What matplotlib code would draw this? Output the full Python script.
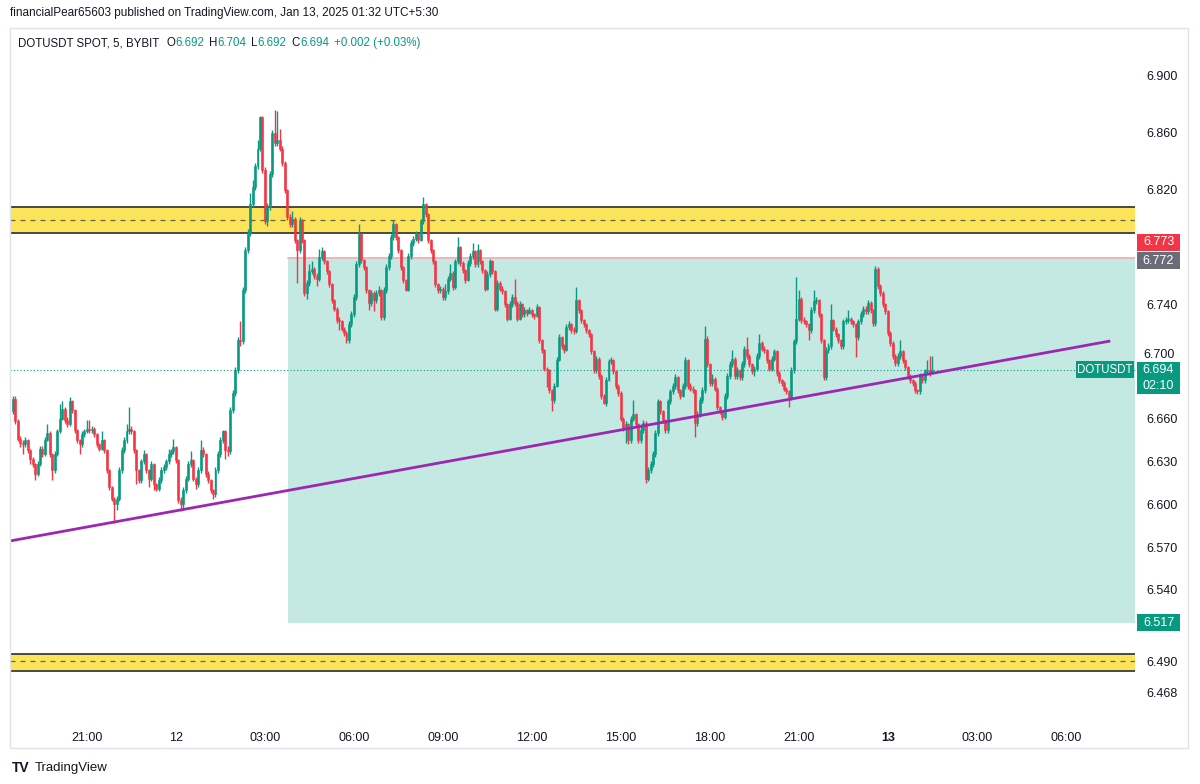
import numpy as np
import pandas as pd
import matplotlib
matplotlib.use('Agg')
import matplotlib.pyplot as plt
import matplotlib.dates as mdates
from matplotlib.patches import Rectangle
from matplotlib.transforms import blended_transform_factory, offset_copy

################################################################################
## DOTUSDT 5 min candles, 2025-01-11 18:30 -> 2025-01-13 01:30
first_open = 6.665
close = [
    6.674, 6.658, 6.646, 6.643, 6.642, 6.645, 6.638, 6.632, 6.628, 6.621,
    6.628, 6.639, 6.635, 6.645, 6.650, 6.635, 6.624, 6.635, 6.651, 6.660,
    6.667, 6.659, 6.656, 6.672, 6.666, 6.652, 6.645, 6.642, 6.649, 6.651,
    6.653, 6.652, 6.653, 6.649, 6.642, 6.639, 6.645, 6.638, 6.624, 6.612,
    6.604, 6.600, 6.604, 6.624, 6.638, 6.645, 6.651, 6.653, 6.651, 6.638,
    6.624, 6.617, 6.630, 6.635, 6.624, 6.618, 6.628, 6.614, 6.611, 6.617,
    6.624, 6.626, 6.630, 6.635, 6.637, 6.640, 6.631, 6.603, 6.600, 6.610,
    6.618, 6.628, 6.631, 6.618, 6.614, 6.624, 6.638, 6.635, 6.621, 6.617,
    6.610, 6.607, 6.624, 6.635, 6.645, 6.651, 6.638, 6.637, 6.666, 6.678,
    6.694, 6.715, 6.714, 6.750, 6.778, 6.790, 6.810, 6.822, 6.837, 6.849,
    6.871, 6.834, 6.798, 6.808, 6.831, 6.860, 6.853, 6.855, 6.849, 6.839,
    6.820, 6.801, 6.796, 6.800, 6.785, 6.778, 6.799, 6.785, 6.748, 6.755,
    6.763, 6.765, 6.760, 6.758, 6.773, 6.777, 6.770, 6.763, 6.754, 6.743,
    6.737, 6.729, 6.728, 6.723, 6.720, 6.715, 6.726, 6.733, 6.745, 6.768,
    6.789, 6.771, 6.766, 6.750, 6.741, 6.748, 6.743, 6.748, 6.750, 6.731,
    6.750, 6.766, 6.774, 6.787, 6.796, 6.787, 6.778, 6.766, 6.757, 6.750,
    6.774, 6.783, 6.786, 6.789, 6.785, 6.798, 6.810, 6.803, 6.785, 6.778,
    6.770, 6.754, 6.750, 6.751, 6.745, 6.749, 6.758, 6.762, 6.752, 6.770,
    6.780, 6.769, 6.764, 6.757, 6.769, 6.774, 6.777, 6.768, 6.778, 6.770,
    6.764, 6.751, 6.761, 6.770, 6.763, 6.737, 6.755, 6.751, 6.749, 6.740,
    6.730, 6.740, 6.745, 6.741, 6.730, 6.740, 6.733, 6.736, 6.734, 6.736,
    6.733, 6.732, 6.738, 6.715, 6.708, 6.695, 6.694, 6.680, 6.673, 6.683,
    6.701, 6.717, 6.711, 6.708, 6.724, 6.726, 6.722, 6.721, 6.743, 6.736,
    6.729, 6.726, 6.722, 6.719, 6.707, 6.694, 6.702, 6.690, 6.676, 6.671,
    6.687, 6.700, 6.701, 6.693, 6.683, 6.678, 6.660, 6.653, 6.656, 6.645,
    6.660, 6.663, 6.656, 6.645, 6.652, 6.657, 6.618, 6.624, 6.628, 6.635,
    6.650, 6.672, 6.665, 6.659, 6.652, 6.672, 6.679, 6.683, 6.689, 6.680,
    6.676, 6.683, 6.701, 6.683, 6.681, 6.680, 6.657, 6.663, 6.673, 6.680,
    6.716, 6.698, 6.685, 6.688, 6.681, 6.668, 6.665, 6.661, 6.676, 6.690,
    6.698, 6.702, 6.690, 6.694, 6.689, 6.698, 6.709, 6.704, 6.698, 6.693,
    6.695, 6.704, 6.713, 6.709, 6.708, 6.701, 6.695, 6.702, 6.707, 6.692,
    6.687, 6.685, 6.681, 6.679, 6.675, 6.694, 6.714, 6.730, 6.744, 6.729,
    6.728, 6.726, 6.722, 6.736, 6.742, 6.743, 6.733, 6.715, 6.689, 6.708,
    6.711, 6.729, 6.723, 6.719, 6.715, 6.711, 6.728, 6.729, 6.730, 6.728,
    6.726, 6.717, 6.728, 6.733, 6.737, 6.735, 6.741, 6.736, 6.727, 6.765,
    6.753, 6.748, 6.740, 6.735, 6.720, 6.713, 6.704, 6.699, 6.704, 6.707,
    6.701, 6.696, 6.690, 6.687, 6.685, 6.680, 6.679, 6.690, 6.687, 6.693,
    6.694, 6.692, 6.694]
high = [
    6.676, 6.676, 6.660, 6.648, 6.645, 6.647, 6.646, 6.639, 6.633, 6.629,
    6.630, 6.641, 6.641, 6.647, 6.656, 6.651, 6.636, 6.637, 6.653, 6.670,
    6.672, 6.668, 6.661, 6.675, 6.673, 6.667, 6.653, 6.646, 6.651, 6.653,
    6.659, 6.659, 6.655, 6.654, 6.650, 6.643, 6.651, 6.646, 6.639, 6.625,
    6.613, 6.605, 6.606, 6.626, 6.640, 6.647, 6.656, 6.668, 6.655, 6.652,
    6.639, 6.625, 6.632, 6.638, 6.636, 6.625, 6.630, 6.629, 6.615, 6.619,
    6.626, 6.628, 6.632, 6.639, 6.639, 6.646, 6.641, 6.632, 6.605, 6.612,
    6.620, 6.630, 6.637, 6.632, 6.619, 6.626, 6.645, 6.640, 6.636, 6.623,
    6.618, 6.611, 6.626, 6.637, 6.647, 6.652, 6.652, 6.641, 6.668, 6.680,
    6.696, 6.717, 6.728, 6.752, 6.780, 6.793, 6.818, 6.827, 6.839, 6.855,
    6.872, 6.872, 6.836, 6.811, 6.833, 6.862, 6.876, 6.875, 6.863, 6.851,
    6.840, 6.821, 6.803, 6.805, 6.801, 6.786, 6.801, 6.800, 6.786, 6.757,
    6.768, 6.770, 6.766, 6.762, 6.779, 6.780, 6.778, 6.771, 6.764, 6.755,
    6.744, 6.738, 6.731, 6.729, 6.724, 6.721, 6.728, 6.735, 6.747, 6.770,
    6.796, 6.790, 6.772, 6.767, 6.751, 6.750, 6.749, 6.750, 6.753, 6.751,
    6.752, 6.768, 6.776, 6.789, 6.799, 6.797, 6.788, 6.779, 6.767, 6.758,
    6.776, 6.785, 6.788, 6.791, 6.790, 6.800, 6.815, 6.811, 6.804, 6.786,
    6.779, 6.771, 6.755, 6.753, 6.752, 6.754, 6.760, 6.768, 6.763, 6.772,
    6.787, 6.781, 6.770, 6.765, 6.771, 6.776, 6.783, 6.778, 6.782, 6.779,
    6.771, 6.765, 6.763, 6.772, 6.771, 6.764, 6.757, 6.756, 6.753, 6.750,
    6.741, 6.742, 6.747, 6.758, 6.742, 6.742, 6.741, 6.738, 6.737, 6.738,
    6.737, 6.734, 6.740, 6.739, 6.716, 6.709, 6.696, 6.695, 6.681, 6.685,
    6.703, 6.719, 6.718, 6.712, 6.726, 6.728, 6.727, 6.724, 6.752, 6.744,
    6.737, 6.730, 6.727, 6.723, 6.720, 6.708, 6.704, 6.703, 6.691, 6.677,
    6.689, 6.702, 6.703, 6.702, 6.694, 6.684, 6.679, 6.661, 6.658, 6.657,
    6.662, 6.673, 6.664, 6.657, 6.656, 6.659, 6.658, 6.626, 6.630, 6.637,
    6.652, 6.674, 6.673, 6.666, 6.660, 6.674, 6.681, 6.685, 6.691, 6.690,
    6.681, 6.685, 6.703, 6.702, 6.685, 6.683, 6.681, 6.665, 6.675, 6.682,
    6.725, 6.718, 6.699, 6.691, 6.689, 6.682, 6.669, 6.666, 6.678, 6.692,
    6.700, 6.708, 6.703, 6.696, 6.695, 6.700, 6.711, 6.717, 6.705, 6.699,
    6.697, 6.706, 6.719, 6.714, 6.711, 6.709, 6.702, 6.704, 6.709, 6.708,
    6.693, 6.688, 6.686, 6.682, 6.680, 6.696, 6.716, 6.759, 6.750, 6.745,
    6.731, 6.729, 6.727, 6.738, 6.750, 6.745, 6.744, 6.734, 6.716, 6.710,
    6.713, 6.740, 6.730, 6.724, 6.720, 6.716, 6.730, 6.731, 6.736, 6.731,
    6.729, 6.727, 6.730, 6.735, 6.739, 6.739, 6.743, 6.742, 6.737, 6.767,
    6.766, 6.754, 6.749, 6.741, 6.736, 6.721, 6.714, 6.705, 6.706, 6.715,
    6.708, 6.702, 6.697, 6.691, 6.688, 6.686, 6.681, 6.692, 6.691, 6.695,
    6.701, 6.704, 6.704]
low = [
    6.663, 6.656, 6.644, 6.640, 6.635, 6.640, 6.636, 6.628, 6.626, 6.617,
    6.620, 6.627, 6.633, 6.634, 6.644, 6.633, 6.617, 6.622, 6.634, 6.650,
    6.659, 6.657, 6.654, 6.655, 6.664, 6.650, 6.643, 6.635, 6.640, 6.647,
    6.650, 6.650, 6.650, 6.647, 6.640, 6.637, 6.638, 6.636, 6.622, 6.610,
    6.602, 6.587, 6.596, 6.602, 6.622, 6.636, 6.643, 6.649, 6.649, 6.636,
    6.614, 6.615, 6.615, 6.628, 6.622, 6.612, 6.616, 6.610, 6.609, 6.609,
    6.615, 6.622, 6.624, 6.628, 6.633, 6.635, 6.629, 6.601, 6.595, 6.596,
    6.608, 6.616, 6.626, 6.616, 6.611, 6.612, 6.622, 6.633, 6.619, 6.615,
    6.608, 6.604, 6.605, 6.622, 6.633, 6.643, 6.632, 6.634, 6.635, 6.664,
    6.676, 6.692, 6.711, 6.712, 6.748, 6.776, 6.788, 6.808, 6.820, 6.835,
    6.847, 6.832, 6.796, 6.795, 6.806, 6.829, 6.851, 6.851, 6.847, 6.837,
    6.818, 6.799, 6.794, 6.794, 6.783, 6.755, 6.776, 6.783, 6.746, 6.744,
    6.753, 6.761, 6.758, 6.753, 6.756, 6.771, 6.768, 6.761, 6.752, 6.741,
    6.735, 6.727, 6.722, 6.721, 6.718, 6.713, 6.713, 6.724, 6.731, 6.743,
    6.766, 6.769, 6.764, 6.748, 6.736, 6.739, 6.735, 6.741, 6.746, 6.729,
    6.729, 6.748, 6.764, 6.772, 6.785, 6.785, 6.776, 6.764, 6.755, 6.749,
    6.749, 6.772, 6.781, 6.784, 6.783, 6.784, 6.796, 6.801, 6.783, 6.776,
    6.768, 6.752, 6.748, 6.748, 6.743, 6.743, 6.747, 6.756, 6.750, 6.751,
    6.768, 6.767, 6.762, 6.755, 6.756, 6.767, 6.772, 6.766, 6.766, 6.768,
    6.762, 6.749, 6.750, 6.759, 6.761, 6.735, 6.735, 6.749, 6.747, 6.738,
    6.728, 6.729, 6.738, 6.739, 6.728, 6.729, 6.731, 6.731, 6.732, 6.733,
    6.731, 6.730, 6.731, 6.713, 6.706, 6.693, 6.682, 6.678, 6.665, 6.671,
    6.682, 6.700, 6.709, 6.706, 6.707, 6.722, 6.720, 6.719, 6.720, 6.734,
    6.727, 6.724, 6.720, 6.717, 6.705, 6.692, 6.692, 6.688, 6.674, 6.670,
    6.669, 6.686, 6.698, 6.691, 6.681, 6.676, 6.658, 6.651, 6.643, 6.642,
    6.643, 6.658, 6.654, 6.643, 6.643, 6.650, 6.615, 6.616, 6.622, 6.626,
    6.633, 6.648, 6.663, 6.657, 6.650, 6.650, 6.670, 6.677, 6.681, 6.678,
    6.674, 6.675, 6.681, 6.681, 6.679, 6.678, 6.647, 6.655, 6.661, 6.671,
    6.678, 6.696, 6.683, 6.683, 6.679, 6.666, 6.663, 6.659, 6.660, 6.674,
    6.688, 6.696, 6.688, 6.688, 6.687, 6.687, 6.696, 6.702, 6.696, 6.691,
    6.690, 6.693, 6.702, 6.707, 6.706, 6.699, 6.693, 6.693, 6.700, 6.690,
    6.685, 6.683, 6.679, 6.677, 6.668, 6.673, 6.692, 6.712, 6.728, 6.727,
    6.726, 6.724, 6.715, 6.720, 6.734, 6.740, 6.731, 6.713, 6.687, 6.687,
    6.706, 6.709, 6.721, 6.717, 6.713, 6.709, 6.709, 6.726, 6.727, 6.726,
    6.724, 6.703, 6.715, 6.726, 6.731, 6.733, 6.733, 6.734, 6.725, 6.725,
    6.751, 6.746, 6.738, 6.733, 6.718, 6.711, 6.702, 6.697, 6.697, 6.702,
    6.699, 6.694, 6.688, 6.685, 6.683, 6.678, 6.677, 6.677, 6.685, 6.685,
    6.691, 6.690, 6.692]

## drawings on the chart
zone_top = [6.808, 6.799, 6.790]       # upper yellow zone: top, dashed mid, bottom
zone_bot = [6.495, 6.490, 6.483]       # lower yellow zone
trend_t = ['2025-01-11 18:24', '2025-01-13 07:30']
trend_p = [6.5743, 6.7143]
pos_start = '2025-01-12 03:46'
pos_entry, pos_stop, pos_target = 6.772, 6.773, 6.517
last_price = 6.694

price_ticks = [6.468, 6.490, 6.540, 6.570, 6.600, 6.630, 6.660, 6.740, 6.820, 6.860, 6.900]
half_hidden_tick = 6.700     # label partly under the last-price tag
time_ticks = ['2025-01-11 21:00', '2025-01-12 00:00', '2025-01-12 03:00', '2025-01-12 06:00',
              '2025-01-12 09:00', '2025-01-12 12:00', '2025-01-12 15:00', '2025-01-12 18:00',
              '2025-01-12 21:00', '2025-01-13 00:00', '2025-01-13 03:00', '2025-01-13 06:00']
time_labels = ['21:00', '12', '03:00', '06:00', '09:00', '12:00', '15:00', '18:00',
               '21:00', '13', '03:00', '06:00']

GREEN = '#089981'
RED = '#F23645'
TXT = '#131722'

plt.rcParams['font.family'] = ['Liberation Sans', 'DejaVu Sans']

W, H = 1200, 784
fig = plt.figure(figsize=(W / 100, H / 100), dpi=100)
fig.patch.set_facecolor('white')
ax = fig.add_axes([10 / W, 1 - 722 / H, 1125 / W, 694 / H])

times = pd.date_range('2025-01-11 18:30', periods=len(close), freq='5min')
t = mdates.date2num(times.to_pydatetime())
step = 5 / 1440.0
c = np.array(close)
o = np.concatenate([[first_open], c[:-1]])
hi = np.array(high)
lo = np.array(low)
col = np.where(c >= o, GREEN, RED)

x0 = mdates.date2num(pd.Timestamp('2025-01-11 18:24:20'))
x1 = mdates.date2num(pd.Timestamp('2025-01-13 08:20'))
ax.set_xlim(x0, x1)
ax.set_ylim(6.4476, 6.9334)

################ drawings ################
ps = mdates.date2num(pd.Timestamp(pos_start))
ax.add_patch(Rectangle((ps, pos_target), x1 - ps, pos_entry - pos_target,
                       facecolor='#c4e8e2', edgecolor='none', zorder=1))
ax.add_patch(Rectangle((ps, pos_entry), x1 - ps, pos_stop - pos_entry,
                       facecolor='#f7c5ca', edgecolor='none', zorder=1))
ax.plot([ps, x1], [pos_entry + 0.0004] * 2, color='#eab3b9', lw=1.2, zorder=1)

for z in (zone_top, zone_bot):
    ax.axhspan(z[2], z[0], facecolor='#fbe35a', edgecolor='none', zorder=1)
    ax.axhline(z[0], color='#3c3c3c', lw=1.3, zorder=2)
    ax.axhline(z[2], color='#3c3c3c', lw=1.3, zorder=2)
    ax.axhline(z[1], color='#6b6540', lw=0.9, ls=(0, (4, 4)), zorder=2)

ax.axhline(last_price, color=GREEN, lw=0.8, ls=(0, (1, 2)), zorder=2)

################ candles ################
ax.vlines(t, lo, hi, colors=col, lw=1.0, zorder=3)
body_h = np.maximum(np.abs(c - o), 0.0006)
ax.bar(t, body_h, bottom=np.minimum(o, c), width=step * 0.8, color=col,
       edgecolor=col, linewidth=0.4, zorder=4)

tt = mdates.date2num([pd.Timestamp(v) for v in trend_t])
ax.plot(tt, trend_p, color='#9c27b0', lw=2, zorder=5, solid_capstyle='butt')

################ axes ################
for s in ax.spines.values():
    s.set_visible(False)
ax.yaxis.tick_right()
ax.set_yticks(price_ticks)
ax.set_yticklabels(['%.3f' % v for v in price_ticks])
ax.tick_params(axis='y', length=0, pad=8, labelsize=9, labelcolor=TXT)
ax.set_xticks(mdates.date2num([pd.Timestamp(v) for v in time_ticks]))
ax.set_xticklabels(time_labels)
ax.tick_params(axis='x', length=0, pad=7, labelsize=9, labelcolor=TXT)
for lab in ax.get_xticklabels():
    if lab.get_text() == '13':
        lab.set_fontweight('bold')

tr = blended_transform_factory(ax.transAxes, ax.transData)
# 6.700 scale label sits just above the last-price tag (TradingView pushes it up)
ax.text(1 + 8 / 1125, half_hidden_tick, '%.3f' % half_hidden_tick,
        transform=offset_copy(tr, fig=fig, x=0, y=6, units='dots'),
        ha='left', va='center', fontsize=9, color=TXT, clip_on=False, zorder=9)

## price tags on the scale
px = (6.9334 - 6.4476) / 694.0


def tag(yc, hpx, xa, xb, color, lines, fs=9):
    h = hpx * px
    ax.add_patch(Rectangle((xa, yc - h / 2), xb - xa, h, transform=tr, facecolor=color,
                           edgecolor='none', clip_on=False, zorder=10))
    n = len(lines)
    for k, s in enumerate(lines):
        yy = yc + h / 2 - (k + 0.5) * h / n
        ax.text((xa + xb) / 2, yy, s, transform=tr, ha='center', va='center',
                color='white', fontsize=fs, clip_on=False, zorder=11)


a0, a1 = 1127 / 1125, 1170 / 1125
tag(pos_stop + 0.0105, 17, a0, a1, RED, ['6.773'])
tag(pos_entry - 0.0014, 17, a0, a1, '#6a6d78', ['6.772'])
tag(last_price - 0.0056, 32, a0, a1, GREEN, ['6.694', '02:10'])
tag(last_price + 0.0001, 17, 1066 / 1125, 1124 / 1125, GREEN, ['DOTUSDT'], fs=8.3)
tag(pos_target, 17, a0, a1, GREEN, ['6.517'])

## frame
fig.add_artist(Rectangle((10 / W, 1 - 748 / H), 1178 / W, 720 / H, transform=fig.transFigure,
                         facecolor='none', edgecolor='#e0e3eb', lw=1))

## header and legend
fig.text(10 / W, 1 - 13 / H, 'financialPear65603 published on TradingView.com, Jan 13, 2025 01:32 UTC+5:30',
         fontsize=8.5, color=TXT, va='center')

pieces = [('DOTUSDT SPOT, 5, BYBIT', TXT, 0), ('O', TXT, 7), ('6.692', GREEN, 0),
          ('H', TXT, 5), ('6.704', GREEN, 0), ('L', TXT, 5), ('6.692', GREEN, 0),
          ('C', TXT, 5), ('6.694', GREEN, 0), ('+0.002 (+0.03%)', GREEN, 5)]
fig.canvas.draw()
r = fig.canvas.get_renderer()
xpos = 18
for s, cc, gap in pieces:
    xpos += gap
    tx = fig.text(xpos / W, 1 - 43 / H, s, fontsize=8.3, color=cc, va='center')
    xpos = tx.get_window_extent(r).x1

fig.text(12 / W, 1 - 768 / H, 'TV', fontsize=10, fontweight='bold', color=TXT, va='center')
fig.text(35 / W, 1 - 768 / H, 'TradingView', fontsize=9.5, color=TXT, va='center')

fig.savefig('out.png', dpi=100, facecolor='white')
